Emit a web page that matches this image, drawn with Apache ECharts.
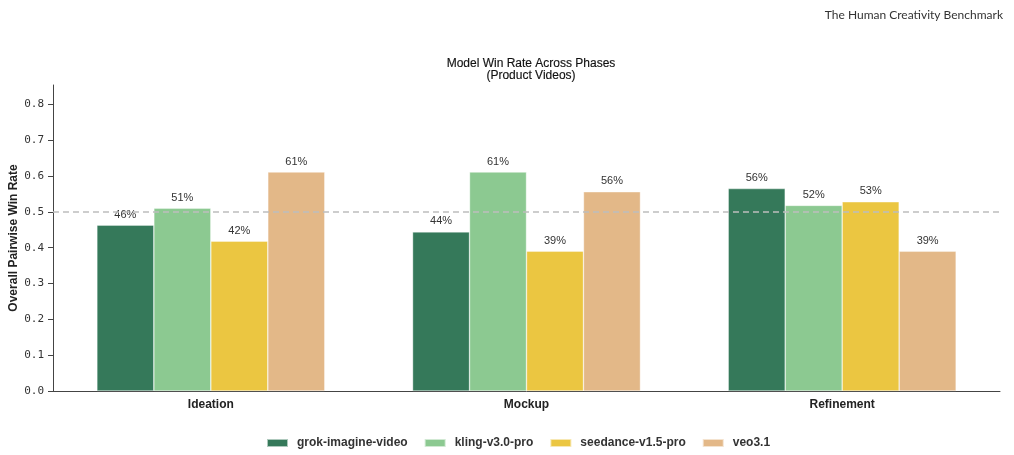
<!DOCTYPE html>
<html>
<head>
<meta charset="utf-8">
<script src="https://cdn.jsdelivr.net/npm/echarts@6/dist/echarts.min.js"></script>
<style>html,body{margin:0;padding:0;background:#fff}#c{width:1014px;height:455px}</style>
</head>
<body>
<div id="c"></div>
<script>
const categories = ['Ideation', 'Mockup', 'Refinement'];
const seriesNames = ['grok-imagine-video', 'kling-v3.0-pro', 'seedance-v1.5-pro', 'veo3.1'];
const grokValues = [0.463, 0.444, 0.565];
const klingValues = [0.510, 0.611, 0.518];
const seedanceValues = [0.418, 0.390, 0.528];
const veoValues = [0.611, 0.556, 0.390];
const yTicks = [0, 0.1, 0.2, 0.3, 0.4, 0.5, 0.6, 0.7, 0.8];
const referenceLine = 0.5;

const colors = ['#35795a', '#8cc991', '#ebc641', '#e3b888'];
const allValues = [grokValues, klingValues, seedanceValues, veoValues];
const font = 'Liberation Sans';

const chart = echarts.init(document.getElementById('c'), null, {renderer: 'canvas'});
const series = seriesNames.map((name, i) => ({
  name: name,
  type: 'bar',
  data: allValues[i],
  barGap: '0%',
  barCategoryGap: '27.8%',
  itemStyle: {color: colors[i], borderColor: 'rgba(255,255,255,0.6)', borderWidth: 0.6},
  label: {
    show: true, position: 'top', distance: 5,
    formatter: p => Math.round(p.value * 100) + '%',
    fontFamily: font, fontSize: 11, color: '#333'
  },
  markLine: i === 0 ? {
    silent: true, symbol: 'none', label: {show: false},
    lineStyle: {color: '#bdbdbd', type: [6, 4], width: 1.5},
    data: [{yAxis: referenceLine}]
  } : undefined,
  z: 2
}));

chart.setOption({
  animation: false,
  color: colors,
  grid: {left: 53, right: 14, top: 85, bottom: 64, containLabel: false, outerBoundsMode: 'none'},
  title: [{
    text: 'Model Win Rate Across Phases\n(Product Videos)',
    left: 526, top: 53, textAlign: 'center',
    textStyle: {fontFamily: font, fontSize: 12, fontWeight: 'normal', color: '#111', lineHeight: 12,
      textBorderColor: '#111', textBorderWidth: 0.15}
  }, {
    text: 'The Human Creativity Benchmark',
    right: 6, top: 4,
    textStyle: {fontFamily: 'Lato', fontSize: 12, fontWeight: 'normal', color: '#333'}
  }],
  legend: {
    bottom: 1, left: 261,
    itemWidth: 21, itemHeight: 8, itemGap: 16,
    icon: 'rect',
    textStyle: {fontFamily: font, fontSize: 12, fontWeight: 'bold', color: '#333', padding: [0, 0, 0, 4]},
    data: seriesNames
  },
  xAxis: {
    type: 'category', data: categories,
    axisLine: {lineStyle: {color: '#444', width: 1}},
    axisTick: {alignWithLabel: true, length: 4, lineStyle: {color: '#444'}},
    axisLabel: {fontFamily: font, fontSize: 12, fontWeight: 'bold', color: '#222', margin: 8}
  },
  yAxis: {
    type: 'value', min: 0, max: 0.854,
    name: 'Overall Pairwise Win Rate', nameLocation: 'middle', nameGap: 33, nameMoveOverlap: false,
    nameTextStyle: {fontFamily: font, fontSize: 12, fontWeight: 'bold', color: '#222'},
    axisLine: {show: true, lineStyle: {color: '#444', width: 1}},
    axisTick: {show: true, length: 5, lineStyle: {color: '#444'}, customValues: yTicks},
    axisLabel: {fontFamily: 'DejaVu Sans Mono', fontSize: 11, color: '#333', margin: 9,
      customValues: yTicks, formatter: v => v.toFixed(1)},
    splitLine: {show: false}
  },
  series: series
});
</script>
</body>
</html>
